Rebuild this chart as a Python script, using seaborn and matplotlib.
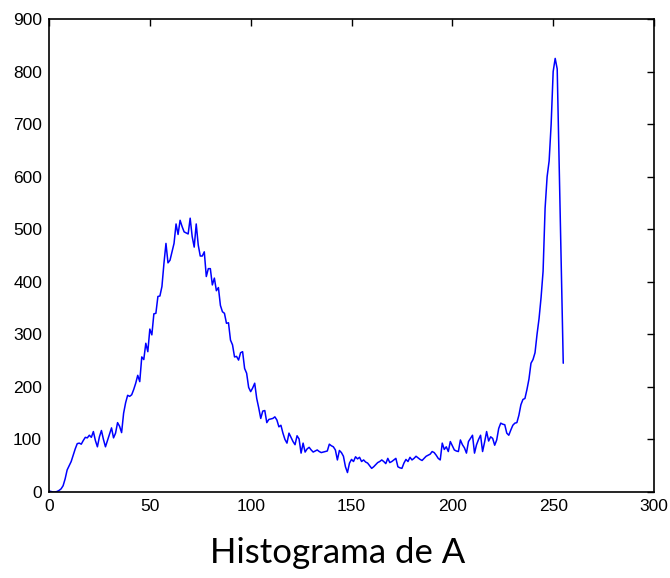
import numpy as np
import pandas as pd
import matplotlib
matplotlib.use("Agg")
import matplotlib.pyplot as plt
import seaborn as sns

# Intensity levels 0..255 and histogram counts
counts = [
    2, 1, 0, 0, 1, 3, 6, 12, 25, 42,
    50, 58, 70, 82, 92, 93, 91, 98, 104, 103,
    108, 104, 115, 98, 86, 105, 117, 100, 86, 98,
    110, 122, 103, 112, 132, 125, 113, 150, 170, 184,
    182, 185, 195, 207, 222, 210, 257, 252, 283, 267,
    310, 299, 339, 340, 372, 373, 391, 435, 473, 436,
    441, 457, 473, 510, 490, 517, 505, 495, 493, 491,
    521, 486, 466, 510, 470, 449, 449, 457, 410, 425,
    425, 394, 407, 383, 389, 355, 343, 340, 321, 322,
    289, 280, 257, 258, 251, 265, 267, 235, 226, 199,
    191, 198, 207, 178, 160, 140, 154, 155, 132, 138,
    139, 140, 143, 137, 124, 127, 112, 100, 93, 112,
    104, 96, 90, 107, 101, 74, 93, 76, 82, 85,
    80, 76, 78, 80, 77, 75, 76, 77, 78, 91,
    88, 86, 80, 61, 79, 75, 68, 48, 37, 55,
    62, 58, 67, 63, 66, 58, 61, 57, 55, 50,
    45, 48, 52, 56, 58, 61, 58, 54, 64, 56,
    58, 61, 64, 48, 46, 45, 55, 62, 58, 66,
    61, 64, 68, 65, 62, 60, 64, 68, 70, 72,
    77, 75, 70, 64, 61, 93, 81, 86, 77, 96,
    88, 80, 78, 77, 99, 90, 84, 74, 96, 102,
    108, 74, 90, 100, 108, 77, 95, 115, 97, 105,
    102, 89, 99, 121, 131, 129, 128, 112, 108, 118,
    127, 131, 132, 146, 166, 176, 178, 195, 215, 245,
    252, 265, 300, 330, 370, 420, 540, 600, 630, 700,
    800, 825, 805, 620, 430, 245,
]
levels = list(range(len(counts)))

x_ticks = [0, 50, 100, 150, 200, 250, 300]
y_ticks = [0, 100, 200, 300, 400, 500, 600, 700, 800, 900]
caption = "Histograma de A"

df = pd.DataFrame({"level": levels, "count": counts})

sns.set_style("white")
plt.rcParams["font.family"] = ["Liberation Sans", "DejaVu Sans"]

fig = plt.figure(figsize=(6.70, 5.78), dpi=100)
ax = fig.add_axes([49 / 670, 1 - 492 / 578, (654 - 49) / 670, (492 - 19) / 578])

sns.lineplot(data=df, x="level", y="count", ax=ax, color="#0000ff", linewidth=1.1)

ax.set_xlim(0, 300)
ax.set_ylim(0, 900)
ax.set_xticks(x_ticks)
ax.set_yticks(y_ticks)
ax.set_xlabel("")
ax.set_ylabel("")
for s in ax.spines.values():
    s.set_visible(True)
    s.set_color("black")
    s.set_linewidth(1.2)
ax.tick_params(direction="in", length=5, width=1.0, colors="black",
               top=True, right=True, labelsize=12.5, pad=5)
ax.grid(False)

fig.text(338 / 670, 1 - 553 / 578, caption, ha="center", va="center",
         fontsize=25, family=["Lato", "DejaVu Sans"], color="black")

fig.savefig("out.png", dpi=100, facecolor="white")
